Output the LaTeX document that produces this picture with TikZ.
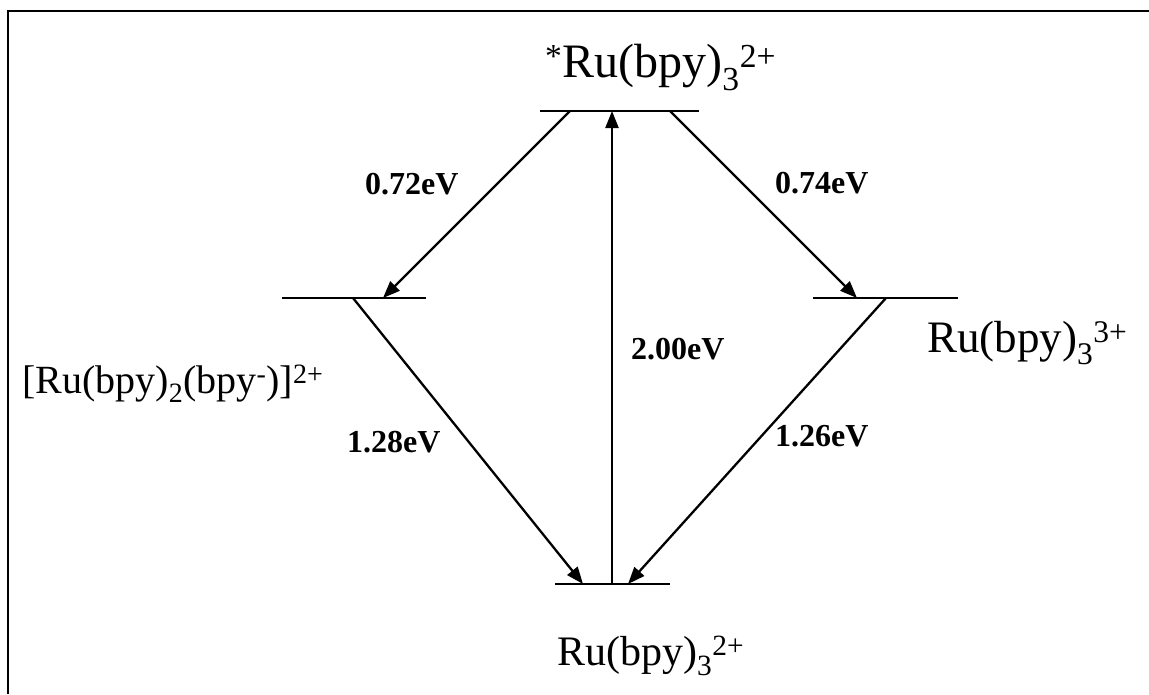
\documentclass[tikz,border=0pt]{standalone}
\usepackage{fontspec}
\setmainfont{Liberation Serif}
\usetikzlibrary{arrows.meta}
\tikzset{
  level/.style={line width=2.3pt},
  trans/.style={line width=2.3pt,-{Triangle[length=17pt,width=13pt]}},
  species/.style={anchor=base west,inner sep=0pt},
  elabel/.style={anchor=base west,inner sep=0pt,font=\fontsize{32}{36}\selectfont\bfseries},
  frame/.style={line width=2.8pt}
}
\begin{document}
\begin{tikzpicture}[x=1pt,y=-1pt]
\useasboundingbox (0,0) rectangle (1149,694);
% frame
\coordinate (fr) at (1149,11);
\coordinate (fc) at (8,11);
\coordinate (fb) at (8,694);
\draw[frame] (fr) -- (fc) -- (fb);
% levels
\coordinate (T1) at (540,111); \coordinate (T2) at (699,111);
\coordinate (L1) at (282,298); \coordinate (L2) at (426,298);
\coordinate (R1) at (813,298); \coordinate (R2) at (958,298);
\coordinate (B1) at (555,584); \coordinate (B2) at (670,584);
\draw[level] (T1) -- (T2);
\draw[level] (L1) -- (L2);
\draw[level] (R1) -- (R2);
\draw[level] (B1) -- (B2);
% arrow end points
\coordinate (Ta) at (570,111); \coordinate (Tm) at (612,111); \coordinate (Tb) at (670,111);
\coordinate (La) at (383,298); \coordinate (Lb) at (353,298);
\coordinate (Ra) at (857,298); \coordinate (Rb) at (886,298);
\coordinate (Ba) at (583,584); \coordinate (Bm) at (612,584); \coordinate (Bb) at (628,584);
\draw[trans] (Ta) -- (La);
\draw[trans] (Tb) -- (Ra);
\draw[trans] (Bm) -- (Tm);
\draw[trans] (Lb) -- (Ba);
\draw[trans] (Rb) -- (Bb);
% species labels
\node[species,font=\fontsize{48}{52}\selectfont] (top) at (545,77) {\textsuperscript{*}Ru(bpy)\textsubscript{3}\textsuperscript{2+}};
\node[species,font=\fontsize{40}{44}\selectfont] (left) at (22,393) {[Ru(bpy)\textsubscript{2}(bpy\textsuperscript{-})]\textsuperscript{2+}};
\node[species,font=\fontsize{45}{48}\selectfont] (right) at (927,352) {Ru(bpy)\textsubscript{3}\textsuperscript{3+}};
\node[species,font=\fontsize{42}{46}\selectfont] (bottom) at (557,665) {Ru(bpy)\textsubscript{3}\textsuperscript{2+}};
% energy labels
\node[elabel] (e1) at (365,194) {0.72eV};
\node[elabel] (e2) at (775,193) {0.74eV};
\node[elabel] (e3) at (631,359) {2.00eV};
\node[elabel] (e4) at (347,452) {1.28eV};
\node[elabel] (e5) at (775,446) {1.26eV};
\end{tikzpicture}
\end{document}
